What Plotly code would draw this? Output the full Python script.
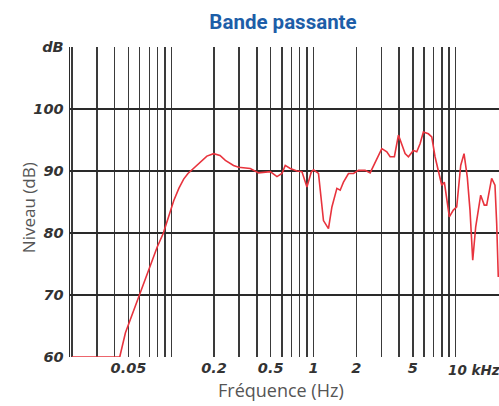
import math
import plotly.graph_objects as go

# ---- data (frequency in kHz, level in dB) ----
freq_khz = [0.02, 0.0434, 0.0476, 0.0597, 0.0700, 0.0795, 0.0880, 0.0934, 0.1040, 0.1130,
            0.1222, 0.1310, 0.1400, 0.1601, 0.1780, 0.1985, 0.2200, 0.2400, 0.2740, 0.2973,
            0.3593, 0.4109, 0.4966, 0.5534, 0.5999, 0.6328, 0.6863,
            0.7646, 0.8290, 0.8989, 0.9634, 1.0, 1.084, 1.175, 1.242, 1.274, 1.347,
            1.460, 1.540, 1.624, 1.761, 1.910, 2.070, 2.307, 2.501, 2.713, 3.022,
            3.277, 3.457, 3.705, 3.954, 4.405, 4.648, 5.038, 5.323, 5.614, 5.922,
            6.421, 6.784, 7.155, 7.669, 7.973, 8.317, 9.018, 9.619, 10.16, 10.84,
            11.44, 12.06, 12.60, 13.17, 13.82, 14.98, 15.88, 16.51, 17.89, 18.88,
            19.41, 19.92]
level_db = [60.0, 60.0, 63.9, 70.0, 74.3, 77.7, 80.0, 82.0, 85.2, 87.2,
            88.7, 89.6, 90.2, 91.5, 92.4, 92.8, 92.5, 91.7, 90.9, 90.6,
            90.4, 89.7, 89.9, 89.1, 89.6, 90.9, 90.4,
            90.0, 89.9, 87.4, 89.8, 90.2, 89.6, 82.0, 81.2, 80.7, 84.2,
            87.2, 86.9, 88.2, 89.6, 89.6, 90.1, 90.1, 89.7, 91.5, 93.6,
            93.1, 92.3, 92.3, 95.8, 92.8, 92.3, 93.3, 93.1, 94.4, 96.3,
            96.0, 95.5, 92.3, 89.3, 87.7, 88.2, 82.6, 83.7, 84.2, 90.9,
            92.8, 89.0, 83.7, 75.6, 81.0, 86.1, 84.5, 84.5, 88.8, 87.7,
            81.5, 72.9]

x_tick_vals = [0.05, 0.2, 0.5, 1, 2, 5]
x_tick_text = ["0.05", "0.2", "0.5", "1", "2", "5"]
x_grid_vals = [m * d for d in (0.01, 0.1, 1, 10) for m in range(1, 10) if 0.02 <= m * d <= 20]
y_tick_vals = [60, 70, 80, 90, 100, 110]
y_tick_text = ["60", "70", "80", "90", "100", "dB"]

tick_font = dict(family="DejaVu Sans", size=14.5, color="#333333", style="italic", weight="bold")
khz_font = dict(family="DejaVu Sans", size=13.5, color="#333333", style="italic", weight="bold")
title_font = dict(family="Open Sans", size=17, color="#555555")

W, H = 499, 406
L, T, B = 70, 47, 406 - 356.7
PW, PH = W - L, H - T - B

fig = go.Figure()
fig.add_trace(go.Scatter(x=freq_khz, y=level_db, mode="lines",
                         line=dict(color="#e8333d", width=1.6),
                         cliponaxis=False, showlegend=False, hoverinfo="skip"))

fig.update_layout(
    width=W, height=H,
    margin=dict(l=L, r=0, t=T, b=B, autoexpand=False),
    paper_bgcolor="white", plot_bgcolor="white",
    title=dict(text="<b>Bande passante</b>", x=283 / W, xanchor="center",
               y=1 - 22 / H, yanchor="middle",
               font=dict(family="Roboto", size=20.5, color="#1d5ea8")),
    xaxis=dict(type="log", range=[math.log10(0.0194), math.log10(20.15)],
               tickmode="array", tickvals=x_tick_vals, ticktext=x_tick_text,
               tickfont=tick_font, ticks="", showgrid=True, gridcolor="#3a3a3a", gridwidth=1.5,
               minor=dict(tickmode="array", tickvals=x_grid_vals, showgrid=True,
                          gridcolor="#3a3a3a", gridwidth=1.5, ticks=""),
               zeroline=False, showline=False, fixedrange=True),
    yaxis=dict(range=[60, 110], tickmode="array", tickvals=y_tick_vals, ticktext=y_tick_text,
               tickfont=tick_font, ticks="", showgrid=True, gridcolor="#2a2a2a", gridwidth=1.5,
               zeroline=False, showline=True, linecolor="#2a2a2a", linewidth=1.5,
               ticklabelstandoff=2, fixedrange=True),
    annotations=[
        dict(text="10 kHz", xref="x", yref="paper", x=math.log10(8.55), y=0,
             xanchor="left", yanchor="top", yshift=-3, showarrow=False, font=khz_font),
        dict(text="Niveau (dB)", xref="paper", yref="paper", x=-(L - 28) / PW,
             y=1 - (208 - T) / PH, xanchor="center", yanchor="middle", textangle=-90,
             showarrow=False, font=title_font),
        dict(text="Fréquence (Hz)", xref="paper", yref="paper", x=(281 - L) / PW,
             y=-(390 - 356.7) / PH, xanchor="center", yanchor="middle", showarrow=False,
             font=dict(family="Open Sans", size=18, color="#555555")),
    ],
)

fig.write_html("out.html", config={"displayModeBar": False, "staticPlot": True},
               post_script="document.body.style.margin='0';document.body.style.overflow='hidden';")
